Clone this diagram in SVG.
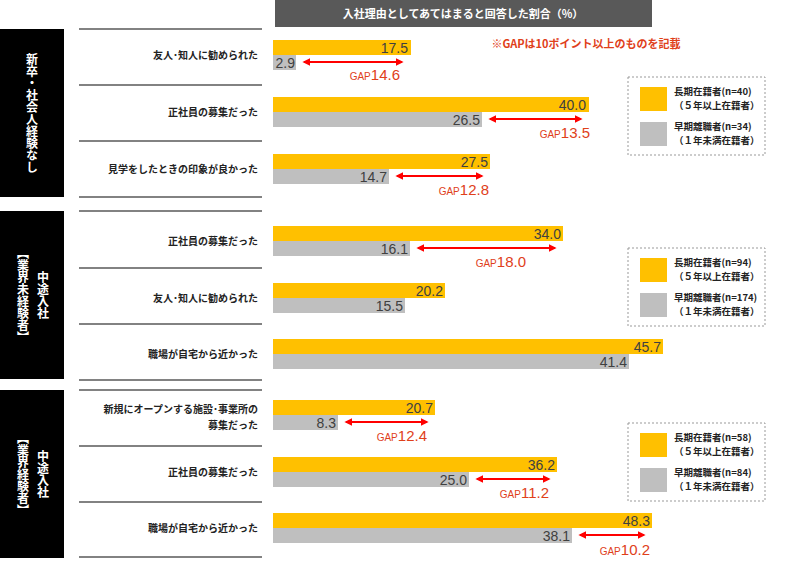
<svg xmlns="http://www.w3.org/2000/svg" width="800" height="570" viewBox="0 0 800 570">
<style>
text{font-family:"Noto Sans CJK JP","Liberation Sans",sans-serif}
.lbl{font-size:10px;font-weight:bold;fill:#222;text-anchor:end}
.y{fill:#FFC000}.g{fill:#BFBFBF}
.v{font-size:14px;fill:#404040;text-anchor:end;font-family:"Liberation Sans",sans-serif}
.gap{fill:#E0401A;text-anchor:end;font-family:"Liberation Sans",sans-serif;font-size:15px}
.gs{font-size:10px}
.ln{stroke:#595959;stroke-width:1.5}
.side{fill:#000}
.st{fill:#fff;font-size:12px;font-weight:bold;writing-mode:vertical-rl;text-anchor:middle}
.lg{fill:#fff;stroke:#999;stroke-dasharray:2,2}
.lt{font-size:9.5px;font-weight:bold;fill:#222}
.ar{stroke:#FF0000;stroke-width:2;marker-start:url(#a);marker-end:url(#a)}
</style>
<defs><marker id="a" viewBox="0 0 10 10" refX="8" refY="5" markerWidth="4" markerHeight="4" orient="auto-start-reverse"><path d="M0,0L10,5L0,10z" fill="#FF0000"/></marker></defs>
<g id="title"><rect x="275" y="0" width="377" height="27" fill="#595959"/><text x="463" y="18" fill="#fff" font-size="11" font-weight="bold" text-anchor="middle">入社理由としてあてはまると回答した割合（%）</text></g>
<text x="586" y="48" fill="#E0401A" font-size="11" font-weight="bold" text-anchor="middle">※GAPは10ポイント以上のものを記載</text>
<g id="sides">
<rect class="side" x="0" y="29" width="64" height="168"/><text class="st" x="32" y="113">新卒・社会人経験なし</text>
<rect class="side" x="0" y="211" width="64" height="168"/><text class="st" x="43" y="295">中途入社</text><text class="st" x="23" y="295">【業界未経験者】</text>
<rect class="side" x="0" y="390" width="64" height="168"/><text class="st" x="43" y="474">中途入社</text><text class="st" x="23" y="474">【業界経験者】</text>
</g>
<g id="lines">
<line class="ln" x1="79" x2="262" y1="29" y2="29"/><line class="ln" x1="79" x2="262" y1="85" y2="85"/><line class="ln" x1="79" x2="262" y1="141" y2="141"/><line class="ln" x1="79" x2="262" y1="197" y2="197"/>
<line class="ln" x1="79" x2="262" y1="211" y2="211"/><line class="ln" x1="79" x2="262" y1="268" y2="268"/><line class="ln" x1="79" x2="262" y1="324" y2="324"/><line class="ln" x1="79" x2="262" y1="380" y2="380"/>
<line class="ln" x1="79" x2="262" y1="390" y2="390"/><line class="ln" x1="79" x2="262" y1="446" y2="446"/><line class="ln" x1="79" x2="262" y1="502" y2="502"/><line class="ln" x1="79" x2="262" y1="557" y2="557"/>
</g>
<g id="labels">
<text class="lbl" x="258" y="59">友人･知人に勧められた</text>
<text class="lbl" x="258" y="116">正社員の募集だった</text>
<text class="lbl" x="258" y="173">見学をしたときの印象が良かった</text>
<text class="lbl" x="258" y="245">正社員の募集だった</text>
<text class="lbl" x="258" y="302">友人･知人に勧められた</text>
<text class="lbl" x="258" y="358">職場が自宅から近かった</text>
<text class="lbl" x="258" y="413">新規にオープンする施設･事業所の</text>
<text class="lbl" x="258" y="429">募集だった</text>
<text class="lbl" x="258" y="476">正社員の募集だった</text>
<text class="lbl" x="258" y="532">職場が自宅から近かった</text>
</g>
<g id="bars">
<rect class="y" x="273" y="40" width="138" height="15"/><rect class="g" x="273" y="55" width="23" height="15"/>
<text class="v" x="408" y="53">17.5</text><text class="v" x="295" y="68">2.9</text>
<rect class="y" x="273" y="97" width="316" height="15"/><rect class="g" x="273" y="112" width="209" height="15"/>
<text class="v" x="586" y="110">40.0</text><text class="v" x="480" y="125">26.5</text>
<rect class="y" x="273" y="154" width="217" height="15"/><rect class="g" x="273" y="169" width="116" height="15"/>
<text class="v" x="488" y="167">27.5</text><text class="v" x="387" y="182">14.7</text>
<rect class="y" x="273" y="226" width="290" height="15"/><rect class="g" x="273" y="241" width="137" height="15"/>
<text class="v" x="561" y="239">34.0</text><text class="v" x="408" y="254">16.1</text>
<rect class="y" x="273" y="283" width="172" height="15"/><rect class="g" x="273" y="298" width="132" height="15"/>
<text class="v" x="443" y="296">20.2</text><text class="v" x="403" y="311">15.5</text>
<rect class="y" x="273" y="339" width="390" height="15"/><rect class="g" x="273" y="354" width="356" height="15"/>
<text class="v" x="661" y="352">45.7</text><text class="v" x="627" y="367">41.4</text>
<rect class="y" x="273" y="400" width="162" height="15"/><rect class="g" x="273" y="415" width="65" height="15"/>
<text class="v" x="433" y="413">20.7</text><text class="v" x="336" y="428">8.3</text>
<rect class="y" x="273" y="457" width="284" height="15"/><rect class="g" x="273" y="472" width="196" height="15"/>
<text class="v" x="555" y="470">36.2</text><text class="v" x="467" y="485">25.0</text>
<rect class="y" x="273" y="513" width="379" height="15"/><rect class="g" x="273" y="528" width="299" height="15"/>
<text class="v" x="650" y="526">48.3</text><text class="v" x="570" y="541">38.1</text>
</g>
<g id="connectors">
<line class="ar" x1="304" y1="62" x2="402" y2="62"/>
<line class="ar" x1="490" y1="119" x2="581" y2="119"/>
<line class="ar" x1="397" y1="176" x2="482" y2="176"/>
<line class="ar" x1="418" y1="248" x2="555" y2="248"/>
<line class="ar" x1="346" y1="422" x2="427" y2="422"/>
<line class="ar" x1="477" y1="479" x2="549" y2="479"/>
<line class="ar" x1="580" y1="535" x2="644" y2="535"/>
</g>
<g id="gaps">
<text class="gap" x="400" y="80"><tspan class="gs">GAP</tspan>14.6</text>
<text class="gap" x="590" y="138"><tspan class="gs">GAP</tspan>13.5</text>
<text class="gap" x="489" y="195"><tspan class="gs">GAP</tspan>12.8</text>
<text class="gap" x="526" y="267"><tspan class="gs">GAP</tspan>18.0</text>
<text class="gap" x="427" y="441"><tspan class="gs">GAP</tspan>12.4</text>
<text class="gap" x="549" y="498"><tspan class="gs">GAP</tspan>11.2</text>
<text class="gap" x="650" y="555"><tspan class="gs">GAP</tspan>10.2</text>
</g>
<g id="legend1"><rect class="lg" x="628" y="77" width="137" height="78"/>
<rect class="y" x="640" y="87" width="27" height="24"/><rect class="g" x="640" y="122" width="27" height="24"/>
<text class="lt" x="674" y="95">長期在籍者(n=40)</text><text class="lt" x="674" y="109">（５年以上在籍者）</text>
<text class="lt" x="674" y="130">早期離職者(n=34)</text><text class="lt" x="674" y="144">（１年未満在籍者）</text></g>
<g id="legend2"><rect class="lg" x="628" y="248" width="137" height="78"/>
<rect class="y" x="640" y="258" width="27" height="24"/><rect class="g" x="640" y="293" width="27" height="24"/>
<text class="lt" x="674" y="266">長期在籍者(n=94)</text><text class="lt" x="674" y="280">（５年以上在籍者）</text>
<text class="lt" x="674" y="301">早期離職者(n=174)</text><text class="lt" x="674" y="315">（１年未満在籍者）</text></g>
<g id="legend3"><rect class="lg" x="628" y="423" width="137" height="78"/>
<rect class="y" x="640" y="433" width="27" height="24"/><rect class="g" x="640" y="468" width="27" height="24"/>
<text class="lt" x="674" y="441">長期在籍者(n=58)</text><text class="lt" x="674" y="455">（５年以上在籍者）</text>
<text class="lt" x="674" y="476">早期離職者(n=84)</text><text class="lt" x="674" y="490">（１年未満在籍者）</text></g>
</svg>
